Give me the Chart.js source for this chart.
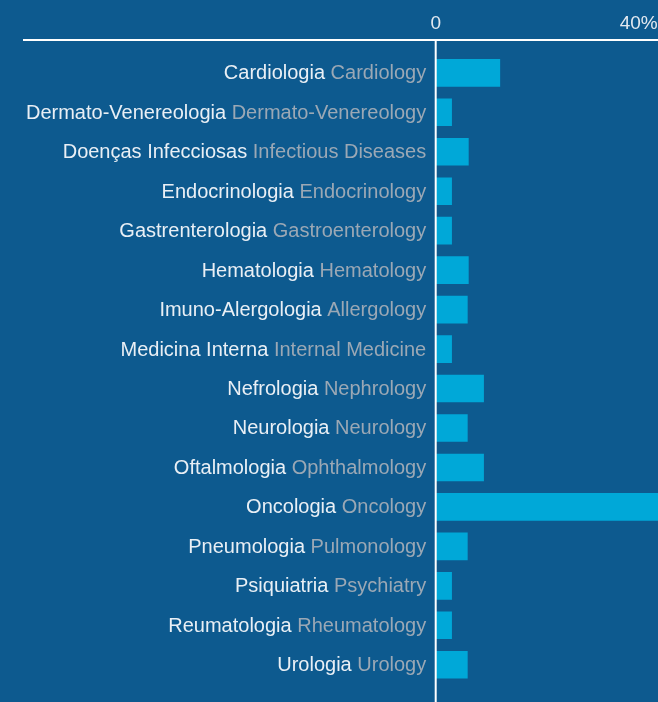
<!DOCTYPE html>
<html><head><meta charset="utf-8">
<script src="https://cdn.jsdelivr.net/npm/chart.js@4.4.1/dist/chart.umd.min.js"></script>
<style>
html,body{margin:0;padding:0;background:#0d5a8f;overflow:hidden}
#wrap{width:658px;height:702px;position:relative}
canvas{display:block}
</style>
</head><body>
<div id="wrap"><canvas id="c" width="658" height="702"></canvas></div>
<script>
const labelsPT = ["Cardiologia","Dermato-Venereologia","Doenças Infecciosas","Endocrinologia","Gastrenterologia","Hematologia","Imuno-Alergologia","Medicina Interna","Nefrologia","Neurologia","Oftalmologia","Oncologia","Pneumologia","Psiquiatria","Reumatologia","Urologia"];
const labelsEN = ["Cardiology","Dermato-Venereology","Infectious Diseases","Endocrinology","Gastroenterology","Hematology","Allergology","Internal Medicine","Nephrology","Neurology","Ophthalmology","Oncology","Pulmonology","Psychiatry","Rheumatology","Urology"];
const values = [12.7, 3.2, 6.5, 3.2, 3.2, 6.5, 6.3, 3.2, 9.5, 6.3, 9.5, 45, 6.3, 3.2, 3.2, 6.3];
const xTickValues = [0, 40];
const xMax = 43.8;

const BG = '#0d5a8f';
const BAR = '#00a8d8';
const WHITE_TXT = '#e9eff5';
const GREY_TXT = '#9ba8b5';
const LABEL_FONT = '20px "Liberation Sans", Arial, sans-serif';

const decor = {
  id: 'decor',
  beforeDraw(chart) {
    const ctx = chart.ctx;
    ctx.save();
    ctx.fillStyle = BG;
    ctx.fillRect(0, 0, chart.width, chart.height);
    ctx.restore();
  },
  afterDraw(chart) {
    const ctx = chart.ctx;
    const xs = chart.scales.x, ys = chart.scales.y;
    const x0 = xs.getPixelForValue(0);
    ctx.save();
    ctx.strokeStyle = '#ffffff';
    ctx.lineWidth = 2;
    ctx.beginPath();
    ctx.moveTo(23, 40); ctx.lineTo(chart.width, 40);
    ctx.stroke();
    ctx.beginPath();
    ctx.moveTo(x0, 40); ctx.lineTo(x0, chart.height);
    ctx.stroke();
    // two-colour category labels
    ctx.font = LABEL_FONT;
    ctx.textBaseline = 'alphabetic';
    ctx.textAlign = 'right';
    const right = x0 - 9.5;
    labelsPT.forEach((pt, i) => {
      const y = ys.getPixelForValue(i) + 6.5;
      const en = labelsEN[i];
      ctx.fillStyle = GREY_TXT;
      ctx.fillText(en, right, y);
      const w = ctx.measureText(' ' + en).width;
      ctx.fillStyle = WHITE_TXT;
      ctx.fillText(pt, right - w, y);
    });
    ctx.restore();
  }
};

new Chart(document.getElementById('c'), {
  type: 'bar',
  data: {
    labels: labelsPT,
    datasets: [{
      data: values,
      backgroundColor: BAR,
      borderWidth: 0,
      barPercentage: 0.7,
      categoryPercentage: 1.0
    }]
  },
  options: {
    indexAxis: 'y',
    responsive: false,
    animation: false,
    devicePixelRatio: 1,
    layout: { padding: { top: 9.3, left: 435.7, right: 0, bottom: 17.5 } },
    plugins: { legend: { display: false }, tooltip: { enabled: false } },
    scales: {
      x: {
        position: 'top',
        min: 0,
        max: xMax,
        afterBuildTicks(scale) { scale.ticks = xTickValues.map(v => ({ value: v })); },
        afterFit(scale) {
          scale.height = 43.8;
          scale.paddingLeft = 0;
          scale.paddingRight = 0;
          scale.paddingTop = 0;
          scale.paddingBottom = 0;
        },
        ticks: {
          autoSkip: false,
          maxRotation: 0,
          padding: 18,
          color: '#e3e9f0',
          font: { family: '"Liberation Sans", Arial, sans-serif', size: 19 },
          callback: v => v === 0 ? '0' : v + '%'
        },
        grid: { display: false, drawTicks: false },
        border: { display: false }
      },
      y: {
        display: false,
        offset: true,
        grid: { display: false }
      }
    }
  },
  plugins: [decor]
});
</script>
</body></html>
